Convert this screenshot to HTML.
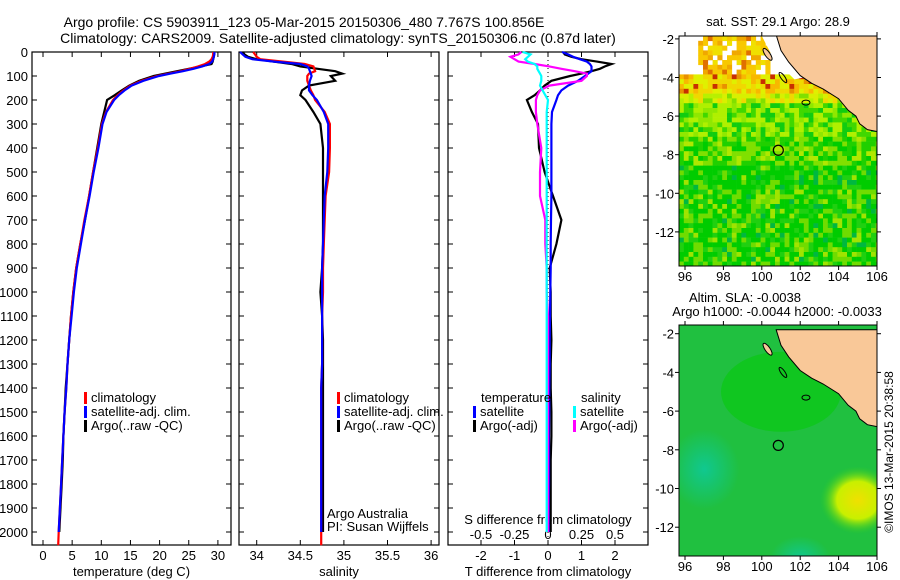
<!DOCTYPE html>
<html><head><meta charset="utf-8"><style>
html,body{margin:0;padding:0;background:#fff;}
svg{display:block;font-family:"Liberation Sans",sans-serif;}
</style></head><body>
<svg id="fig" width="900" height="580" viewBox="0 0 900 580" xmlns="http://www.w3.org/2000/svg">
<g font-size="14" fill="#000" text-anchor="middle">
<text x="304" y="27">Argo profile: CS 5903911_123 05-Mar-2015 20150306_480 7.767S 100.856E</text>
<text x="338" y="43">Climatology: CARS2009. Satellite-adjusted climatology: synTS_20150306.nc (0.87d later)</text>
<text x="778" y="26" font-size="13">sat. SST: 29.1  Argo: 28.9</text>
<text x="745" y="302" font-size="13">Altim. SLA: -0.0038</text>
<text x="777" y="316" font-size="13">Argo h1000: -0.0044 h2000: -0.0033</text>
<text x="0" y="0" font-size="12" transform="translate(893,452) rotate(-90)">©IMOS 13-Mar-2015 20:38:58</text>
</g>
<g id="panels"></g>
<g id="maps"></g>
</svg>
<script>
// ---- profile data ----
const depths=[0,10,20,30,40,50,60,70,80,90,100,120,140,160,180,200,250,300,400,500,600,700,800,900,1000,1100,1200,1300,1400,1500,1600,1700,1800,1900,2000];
const climDepths=[0,10,20,30,40,50,60,70,80,90,100,120,140,160,180,200,250,300,400,500,600,700,800,900,1000,1100,1200,1300,1400,1500,1600,1700,1800,1900,2000,2055];
const tempClim=[29.2,29.2,29.1,28.9,28.5,27.8,26.6,25.2,23.6,21.6,19.6,16.9,15.0,13.8,12.8,12.0,10.8,10.1,9.4,8.6,7.9,7.1,6.4,5.7,5.2,4.8,4.5,4.2,4.0,3.7,3.5,3.3,3.1,2.9,2.7,2.6];
const tempSat=[29.4,29.4,29.3,29.2,29.0,28.5,27.3,25.8,24.0,21.9,19.9,17.2,15.2,14.0,13.0,12.2,10.9,10.2,9.5,8.7,8.0,7.2,6.5,5.8,5.3,4.9,4.5,4.2,4.0,3.7,3.5,3.3,3.1,2.9,2.7];
const tempArgo=[29.3,29.3,29.3,29.2,29.1,28.9,27.0,25.0,23.0,21.0,19.0,16.5,14.8,13.5,12.3,11.0,10.5,10.0,9.3,8.6,7.9,7.2,6.4,5.7,5.2,4.8,4.5,4.2,3.9,3.7,3.5,3.4,3.2,3.0,2.8];
const salClim=[33.96,33.98,34.0,34.04,34.3,34.55,34.65,34.66,34.67,34.6,34.58,34.58,34.6,34.62,34.65,34.67,34.78,34.84,34.84,34.83,34.79,34.78,34.77,34.76,34.76,34.75,34.75,34.75,34.74,34.74,34.74,34.74,34.74,34.74,34.74,34.74];
const salSat=[33.81,33.84,33.87,33.95,34.2,34.5,34.58,34.6,34.61,34.62,34.63,34.61,34.6,34.6,34.64,34.69,34.77,34.82,34.82,34.81,34.78,34.77,34.76,34.75,34.75,34.75,34.75,34.75,34.74,34.74,34.74,34.74,34.74,34.74,34.74];
const salArgo=[33.84,33.86,33.9,34.0,34.2,34.4,34.5,34.7,34.9,34.98,34.85,34.9,34.6,34.52,34.5,34.56,34.65,34.73,34.76,34.76,34.76,34.76,34.76,34.75,34.73,34.75,34.76,34.76,34.76,34.76,34.76,34.76,34.76,34.76,34.76];
const dTSat=[0.42,0.6,0.75,0.95,1.16,1.25,1.3,1.3,1.3,1.2,1.1,0.9,0.6,0.4,0.3,0.25,0.12,0.1,0.1,0.1,0.1,0.09,0.08,0.08,0.07,0.06,0.05,0.05,0.04,0.04,0.03,0.03,0.03,0.02,0.02];
const dTArgo=[0.45,0.5,0.7,1.0,1.46,1.9,1.7,1.55,1.3,1.0,0.66,0.1,-0.1,-0.24,-0.4,-0.63,-0.48,-0.3,-0.27,-0.1,0.15,0.4,0.25,0.05,0.08,0.08,0.1,0.08,0.08,0.1,0.1,0.08,0.08,0.08,0.08];
const dSSat=[-0.19,-0.13,-0.15,-0.17,-0.15,-0.1,-0.08,-0.08,-0.07,-0.06,-0.05,-0.05,-0.06,-0.04,-0.02,0,-0.01,-0.01,-0.01,-0.01,-0.01,-0.01,-0.01,-0.01,-0.01,-0.01,-0.01,-0.01,-0.01,-0.01,-0.01,-0.01,-0.01,-0.01,-0.01];
const dSArgo=[-0.2,-0.22,-0.28,-0.25,-0.22,-0.1,0.01,0.1,0.2,0.29,0.29,0.25,0.01,-0.06,-0.08,-0.09,-0.09,-0.08,-0.05,-0.06,-0.06,-0.02,-0.02,-0.01,-0.01,0,0,0,0,0,0,0,0,0,0];
const depthTicks=[0,100,200,300,400,500,600,700,800,900,1000,1100,1200,1300,1400,1500,1600,1700,1800,1900,2000];
const tempTicks=[0,5,10,15,20,25,30];
const salTicks=[34,34.5,35,35.5,36];
const salTickLabels=["34","34.5","35","35.5","36"];
const dTTicks=[-2,-1,0,1,2];
const dSTicks=[-0.5,-0.25,0,0.25,0.5];
const dSTickLabels=["-0.5","-0.25","0","0.25","0.5"];

const NS="http://www.w3.org/2000/svg";
function mk(tag,attrs,parent){const e=document.createElementNS(NS,tag);for(const k in attrs)e.setAttribute(k,attrs[k]);parent.appendChild(e);return e;}
const TOP=52,BOT=545;
const yD=d=>TOP+d*0.24;
const P=document.getElementById('panels');

function panel(name,x0,x1,xf,ticks,labels,axisLabel){
  const g=mk('g',{},P);
  
  
  const r=mk('rect',{x:x0,y:TOP,width:x1-x0,height:BOT-TOP,fill:'none',stroke:'#000','stroke-width':1.2},g);
  
  
  depthTicks.forEach(d=>{
    const y=yD(d);
    mk('line',{x1:x0,x2:x0+5,y1:y,y2:y,stroke:'#000'},g);
    mk('line',{x1:x1-5,x2:x1,y1:y,y2:y,stroke:'#000'},g);
  });
  ticks.forEach((t,i)=>{
    const x=xf(t);
    mk('line',{x1:x,x2:x,y1:BOT,y2:BOT-5,stroke:'#000'},g);
    mk('line',{x1:x,x2:x,y1:TOP,y2:TOP+5,stroke:'#000'},g);
    const tx=mk('text',{x:x,y:560,'font-size':13,'text-anchor':'middle'},g);
    tx.textContent=labels[i];
    
    
  });
  const al=mk('text',{x:(x0+x1)/2,y:576,'font-size':13,'text-anchor':'middle'},g);
  al.textContent=axisLabel;
  
  
  return g;
}
function line(g,name,xf,vals,ds,color){
  const pts=vals.map((v,i)=>xf(v).toFixed(1)+','+yD(ds[i]).toFixed(1)).join(' ');
  const pl=mk('polyline',{points:pts,fill:'none',stroke:color,'stroke-width':2.2,'stroke-linejoin':'miter'},g);
  
  
}
function legend(g,x,y,items){
  items.forEach((it,i)=>{
    mk('rect',{x:x,y:y+i*14-10,width:3,height:12,fill:it[1]},g);
    const t=mk('text',{x:x+7,y:y+i*14,'font-size':13},g);
    t.textContent=it[0];
    
    
  });
}

// Panel 1 temperature
const xT=v=>43+5.83*v;
const g1=panel('temperature-panel',32,231,xT,tempTicks,tempTicks.map(String),'temperature (deg C)');
depthTicks.forEach(d=>{const t=mk('text',{x:28,y:yD(d)+5,'font-size':13,'text-anchor':'end'},g1);t.textContent=d;
  
  });
line(g1,'argo-temperature-line',xT,tempArgo,depths,'#000');
line(g1,'climatology-temperature-line',xT,tempClim,climDepths,'#f00');
line(g1,'satellite-temperature-line',xT,tempSat,depths,'#00f');
legend(g1,84,402,[['climatology','#f00'],['satellite-adj. clim.','#00f'],['Argo(..raw -QC)','#000']]);

// Panel 2 salinity
const xS=v=>256.7+87.2*(v-34);
const g2=panel('salinity-panel',239,439,xS,salTicks,salTickLabels,'salinity');
line(g2,'argo-salinity-line',xS,salArgo,depths,'#000');
line(g2,'climatology-salinity-line',xS,salClim,climDepths,'#f00');
line(g2,'satellite-salinity-line',xS,salSat,depths,'#00f');
legend(g2,337,402,[['climatology','#f00'],['satellite-adj. clim.','#00f'],['Argo(..raw -QC)','#000']]);
const aa=mk('text',{x:327,y:518,'font-size':13},g2);aa.textContent='Argo Australia';


const pi=mk('text',{x:327,y:531,'font-size':13},g2);pi.textContent='PI: Susan Wijffels';



// Panel 3 differences
const xdT=v=>548+33.5*v;
const xdS=v=>548+134*v;
const g3=panel('difference-panel',448,648,xdT,dTTicks,dTTicks.map(String),'T difference from climatology');
mk('line',{x1:548,x2:548,y1:TOP,y2:BOT,stroke:'#000','stroke-dasharray':'1,3'},g3);
dSTicks.forEach((s,i)=>{const t=mk('text',{x:xdS(s),y:539,'font-size':13,'text-anchor':'middle'},g3);t.textContent=dSTickLabels[i];
  
  });
const sl=mk('text',{x:548,y:524,'font-size':13,'text-anchor':'middle'},g3);sl.textContent='S difference from climatology';


line(g3,'argo-t-diff-line',xdT,dTArgo,depths,'#000');
line(g3,'satellite-t-diff-line',xdT,dTSat,depths,'#00f');
line(g3,'argo-s-diff-line',xdS,dSArgo,depths,'#f0f');
line(g3,'satellite-s-diff-line',xdS,dSSat,depths,'#0ff');
const lt=mk('text',{x:481,y:402,'font-size':13},g3);lt.textContent='temperature';


const ls=mk('text',{x:581,y:402,'font-size':13},g3);ls.textContent='salinity';


legend(g3,473,416,[['satellite','#00f'],['Argo(-adj)','#000']]);
legend(g3,573,416,[['satellite','#0ff'],['Argo(-adj)','#f0f']]);

// ---- maps ----
const M=document.getElementById('maps');
const lonTicks=[96,98,100,102,104,106];
const latTicks=[-2,-4,-6,-8,-10,-12];
const landPoly=[[100.75,-1.8],[101.0,-2.6],[101.4,-3.2],[102.0,-3.9],[102.6,-4.3],[103.2,-4.6],[104.0,-5.1],[104.5,-5.7],[104.9,-6.0],[105.1,-6.4],[105.5,-6.7],[106,-6.8],[106,-1.8]];
let clipN=0;
function mapFrame(name,top,bot,latTop,pxPerLat,fill){
  const g0=mk('g',{},M);
  
  
  const L=679,R=877;
  const cid='mclip'+(clipN++);
  const defs=mk('defs',{},g0);
  const cp=mk('clipPath',{id:cid},defs);
  mk('rect',{x:L,y:top,width:R-L,height:bot-top},cp);
  const g=mk('g',{'clip-path':'url(#'+cid+')'},g0);
  const xl=lon=>685+19.2*(lon-96);
  const yl=lat=>top+(latTop-lat)*pxPerLat;
  fill(g,xl,yl,L,R,top,bot,defs);
  const pts=landPoly.map(p=>xl(p[0]).toFixed(1)+','+yl(p[1]).toFixed(1)).join(' ');
  const land=mk('polygon',{points:pts,fill:'#f9c898',stroke:'#000','stroke-width':1},g);
  
  
  mk('ellipse',{cx:xl(100.3),cy:yl(-2.8),rx:2.5,ry:7,fill:'#f9c898',stroke:'#000',transform:`rotate(-35 ${xl(100.3)} ${yl(-2.8)})`},g);
  mk('ellipse',{cx:xl(101.1),cy:yl(-4.0),rx:2,ry:6,fill:'none',stroke:'#000',transform:`rotate(-35 ${xl(101.1)} ${yl(-4.0)})`},g);
  mk('ellipse',{cx:xl(102.3),cy:yl(-5.3),rx:4,ry:2.5,fill:'none',stroke:'#000'},g);
  const c=mk('circle',{cx:xl(100.86),cy:yl(-7.77),r:5,fill:'none',stroke:'#000','stroke-width':1.2},g);
  
  
  mk('rect',{x:L,y:top,width:R-L,height:bot-top,fill:'none',stroke:'#000'},g0);
  lonTicks.forEach(lon=>{const x=xl(lon);mk('line',{x1:x,x2:x,y1:top,y2:top-4,stroke:'#000'},g0);mk('line',{x1:x,x2:x,y1:bot,y2:bot+4,stroke:'#000'},g0);
    const t=mk('text',{x:x,y:bot+15,'font-size':13,'text-anchor':'middle'},g0);t.textContent=lon;
    
    });
  latTicks.forEach(lat=>{const y=yl(lat);mk('line',{x1:L,x2:L-4,y1:y,y2:y,stroke:'#000'},g0);mk('line',{x1:R,x2:R+4,y1:y,y2:y,stroke:'#000'},g0);
    const t=mk('text',{x:674,y:y+5,'font-size':13,'text-anchor':'end'},g0);t.textContent=lat;
    
    });
}
function hash(i,j){let h=(i*374761393+j*668265263)|0;h=(h^(h>>>13))*1274126177|0;return ((h^(h>>>16))>>>0)/4294967296;}
mapFrame('sst-map',36,266,-1.85,19.3,(g,xl,yl,L,R,top,bot)=>{
  mk('rect',{x:L,y:top,width:R-L,height:bot-top,fill:'#fff'},g);
  const cs=4.8;
  for(let j=0;j*cs<bot-top;j++){
    const lat=-1.85-(j*cs)/19.3;
    for(let i=0;i*cs<R-L;i++){
      const lon=95.7+(i*cs)/19.2;
      const h=hash(i,j);let col;
      if(lat>-3.7){ if(lon<96.6||lon>100.3||h<0.2) continue; col=h<0.55?'#f8c800':(h<0.8?'#f0e000':(h<0.93?'#f0a800':'#e07000'));}
      else if(lat>-4.6){col=h<0.35?'#f0d800':(h<0.6?'#e0f000':(h<0.85?'#f8b800':(h<0.93?'#e89000':'#c83000')));}
      else if(lat>-5.3){col=h<0.35?'#d8f000':(h<0.6?'#b8f000':(h<0.8?'#f0d800':'#80e000'));}
      else if(lat>-7.0){col=h<0.35?'#b0f000':(h<0.6?'#90e800':(h<0.8?'#40d800':'#10cc10'));}
      else if(lat>-8.5){col=h<0.3?'#80e000':(h<0.6?'#20d000':(h<0.85?'#00cc00':'#b0e800'));}
      else {col=h<0.45?'#00cc00':(h<0.65?'#20d010':(h<0.85?'#70dc00':(h<0.95?'#a0e400':'#00b840')));}
      mk('rect',{x:L+i*cs,y:top+j*cs,width:cs+0.3,height:cs+0.3,fill:col},g);
    }
  }
  mk('polygon',{points:`${xl(100.0)},${top} ${xl(100.8)},${top} ${xl(101.4)},${yl(-3.2)} ${xl(102.2)},${yl(-4)} ${xl(101.7)},${yl(-4.1)} ${xl(100.6)},${yl(-3)}`,fill:'#fff'},g);
});
mapFrame('sla-map',325,556,-1.55,19.35,(g,xl,yl,L,R,top,bot,defs)=>{
  const rg=mk('radialGradient',{id:'yb'},defs);
  mk('stop',{offset:'0',"stop-color":'#f0e000'},rg);
  mk('stop',{offset:'0.55',"stop-color":'#c8f000'},rg);
  mk('stop',{offset:'1',"stop-color":'#30cc20','stop-opacity':0},rg);
  const tg=mk('radialGradient',{id:'tb'},defs);
  mk('stop',{offset:'0',"stop-color":'#10c890'},tg);
  mk('stop',{offset:'1',"stop-color":'#10c890','stop-opacity':0},tg);
  mk('rect',{x:L,y:top,width:R-L,height:bot-top,fill:'#20c040'},g);
  mk('ellipse',{cx:xl(101),cy:yl(-5),rx:60,ry:40,fill:'#00cc00',opacity:0.5},g);
  mk('ellipse',{cx:xl(97),cy:yl(-9),rx:35,ry:40,fill:'url(#tb)'},g);
  mk('ellipse',{cx:xl(102),cy:yl(-13.6),rx:30,ry:22,fill:'url(#tb)'},g);
  mk('ellipse',{cx:xl(105),cy:yl(-10.6),rx:38,ry:34,fill:'url(#yb)'},g);
});
</script>
</body></html>
